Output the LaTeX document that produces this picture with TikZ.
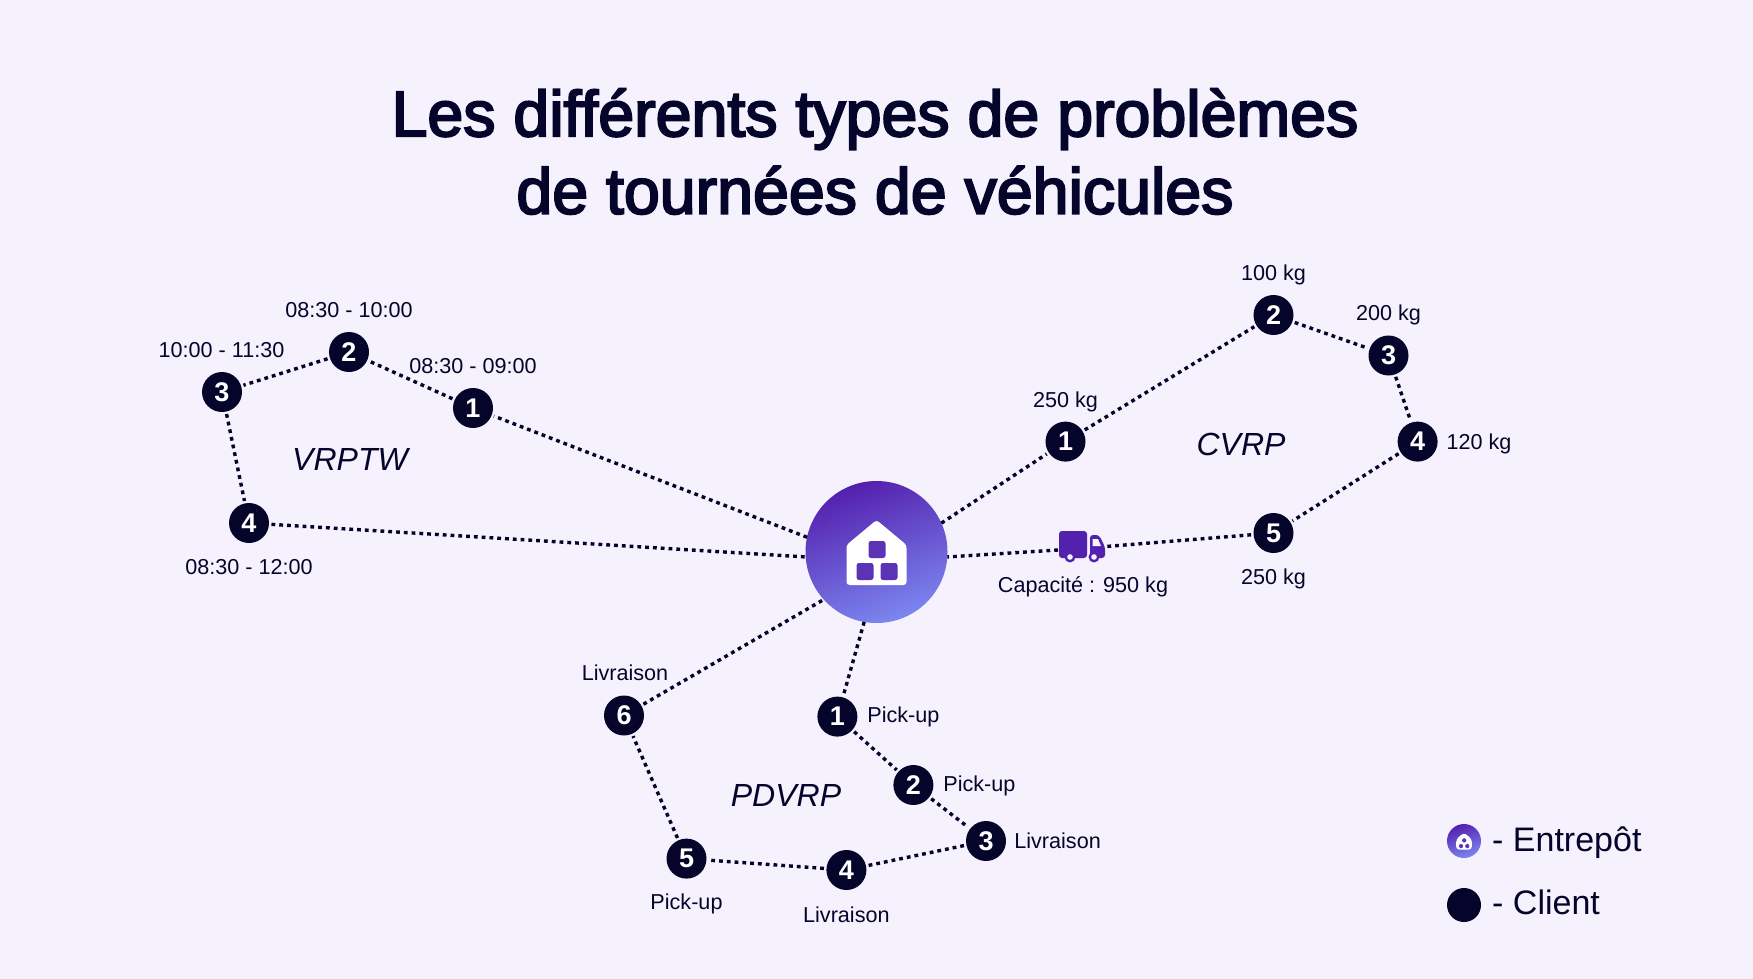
\documentclass[tikz,border=0pt]{standalone}
\usepackage{fontspec}
\setmainfont{Liberation Sans}
\newfontface\titleface[FakeBold=3.2]{Liberation Sans}
\definecolor{bgc}{HTML}{F5F1FD}
\definecolor{ink}{HTML}{05052B}
\definecolor{pa}{HTML}{5420AE}
\definecolor{pb}{HTML}{5C33B6}
\definecolor{pc}{HTML}{7C86F0}
\tikzset{
  x=1pt,y=-1pt,
  client/.style={circle,fill=ink,text=white,minimum size=40pt,inner sep=0pt,outer sep=2.5pt,font=\fontsize{27}{27}\selectfont\bfseries},
  hubdisc/.style={circle,minimum size=142pt,inner sep=0pt,outer sep=0pt,top color=pa,middle color=pb,bottom color=pc,shading angle=20},
  tinyhub/.style={circle,minimum size=34pt,inner sep=0pt,top color=pa,middle color=pb,bottom color=pc,shading angle=20},
  dotline/.style={draw=ink,line width=3.4pt,dash pattern=on 3.8pt off 4pt},
  lab/.style={text=ink,inner sep=0pt,font=\fontsize{21.6}{22}\selectfont},
  tag/.style={text=ink,inner sep=0pt,font=\fontsize{32}{33}\selectfont\itshape},
  leg/.style={text=ink,inner sep=0pt,anchor=west,font=\fontsize{34}{34}\selectfont},
  homeicon/.pic={
    \fill[white,rounded corners=3pt] (-30,33)--(-30,-7)--(0,-32)--(30,-7)--(30,33)--cycle;
    \fill[pb,rounded corners=2.5pt] (-8,-11) rectangle (9,6);
    \fill[pb,rounded corners=2.5pt] (-20,11) rectangle (-3,28);
    \fill[pb,rounded corners=2.5pt] (4,11) rectangle (21,28);
  }
}
\begin{document}
\begin{tikzpicture}
\useasboundingbox (0,0) rectangle (1753,979);
\fill[bgc] (0,0) rectangle (1753,979);

\node[text=ink,align=center,font=\fontsize{64.5}{77.5}\titleface] (title) at (875,151.5) {Les différents types de problèmes\\de tournées de véhicules};

\node[hubdisc] (hub) at (876.5,552) {};
\pic at (hub.center) {homeicon};

% VRPTW
\node[client] (v1) at (473,408) {1};
\node[client] (v2) at (349,352) {2};
\node[client] (v3) at (222,392) {3};
\node[client] (v4) at (249,523) {4};
% CVRP
\node[client] (c1) at (1065.5,441.6) {1};
\node[client] (c2) at (1273.5,315) {2};
\node[client] (c3) at (1388.5,355.5) {3};
\node[client] (c4) at (1417.6,441.6) {4};
\node[client] (c5) at (1273.5,533) {5};
% PDVRP
\node[client] (p1) at (837.4,716.6) {1};
\node[client] (p2) at (913.4,785) {2};
\node[client] (p3) at (986,841) {3};
\node[client] (p4) at (846.4,870) {4};
\node[client] (p5) at (686.5,858.6) {5};
\node[client] (p6) at (624,715.5) {6};

% truck
\node[minimum width=48pt,minimum height=32pt,inner sep=0pt,outer sep=0pt] (truck) at (1082,546.5) {};
\fill[pa,rounded corners=3pt] (1059,531) rectangle (1087,558);
\fill[pa,rounded corners=3pt] (1090,535) -- (1099,535) -- (1105,547) -- (1105,558) -- (1090,558) -- cycle;
\fill[bgc] (1092.5,539) -- (1098,539) -- (1101,546) -- (1092.5,546) -- cycle;
\fill[pa] (1070,557) circle (5.5pt) (1094,557) circle (5.5pt);
\fill[bgc] (1070,557) circle (2.8pt) (1094,557) circle (2.8pt);

% connectors
\path[dotline] (hub.168) -- (v1);
\path[dotline] (v1) -- (v2);
\path[dotline] (v2) -- (v3);
\path[dotline] (v3) -- (v4);
\path[dotline] (v4) -- (hub.184);
\path[dotline] (hub.24) -- (c1);
\path[dotline] (c1) -- (c2);
\path[dotline] (c2) -- (c3);
\path[dotline] (c3) -- (c4);
\path[dotline] (c4) -- (c5);
\path[dotline] (c5) -- (truck.east);
\path[dotline] ([yshift=-3.5pt]truck.west) -- (hub.-4);
\path[dotline] (hub.-100) -- (p1);
\path[dotline] (p1) -- (p2);
\path[dotline] (p2) -- (p3);
\path[dotline] (p3) -- (p4);
\path[dotline] (p4) -- (p5);
\path[dotline] (p5) -- (p6);
\path[dotline] (p6) -- (hub.222);

% labels
\node[lab] (l1) at (349,310) {08:30 - 10:00};
\node[lab] (l2) at (221.5,350) {10:00 - 11:30};
\node[lab] (l3) at (473,365.6) {08:30 - 09:00};
\node[lab] (l4) at (249,567) {08:30 - 12:00};
\node[tag] (t1) at (350,459.5) {VRPTW};
\node[tag] (t2) at (1241,444) {CVRP};
\node[tag] (t3) at (786,795) {PDVRP};
\node[lab] (l5) at (1065.5,401.5) {250 kg};
\node[lab] (l6) at (1273.5,275) {100 kg};
\node[lab] (l7) at (1388.5,314.5) {200 kg};
\node[lab] (l8) at (1479,444.2) {120 kg};
\node[lab] (l9) at (1273.5,579) {250 kg};
\node[lab] (l10) at (1083,587) {Capacité : 950 kg};
\node[lab] (l11) at (903.4,717.4) {Pick-up};
\node[lab] (l12) at (979.4,785.5) {Pick-up};
\node[lab] (l13) at (1057.6,841) {Livraison};
\node[lab] (l14) at (846.4,914.5) {Livraison};
\node[lab] (l15) at (686.5,903.5) {Pick-up};
\node[lab] (l16) at (625,673) {Livraison};

% legend
\node[tinyhub] (lh) at (1464,841) {};
\pic[scale=0.26] at (lh.center) {homeicon};
\node[circle,fill=ink,minimum size=34pt,inner sep=0pt] (lc) at (1464,905) {};
\node[leg] (le) at (1492,843) {- Entrepôt};
\node[leg] (lf) at (1492,902) {- Client};
\end{tikzpicture}
\end{document}
